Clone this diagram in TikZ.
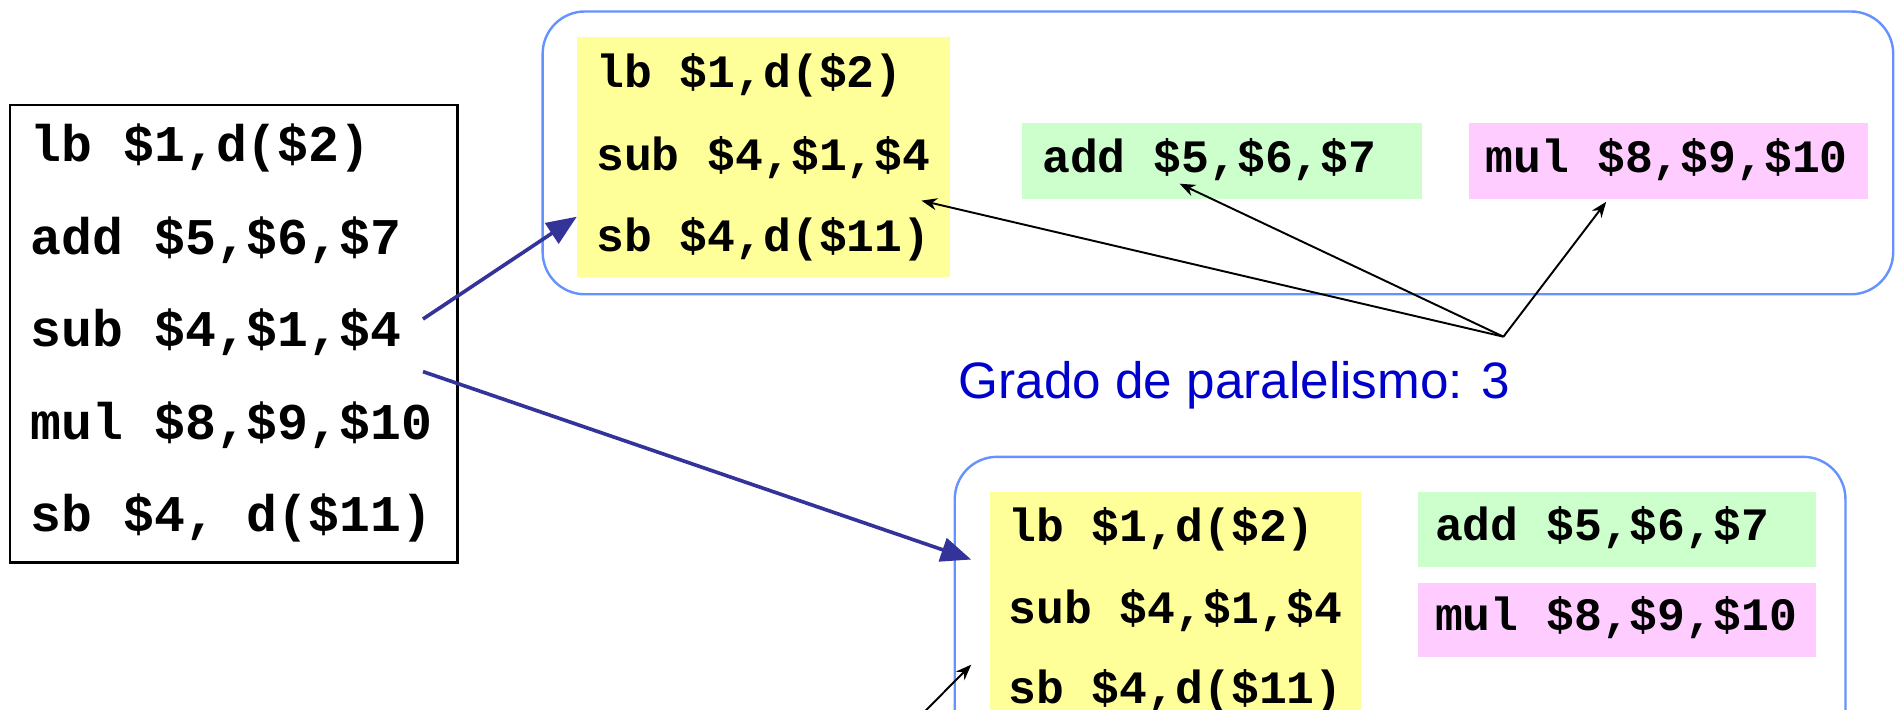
\documentclass[tikz,border=0pt]{standalone}
\usepackage{fontspec}
\setmainfont{Liberation Sans}
\newfontfamily\cfont{Liberation Mono}
\usetikzlibrary{fit,arrows.meta}
\definecolor{yel}{RGB}{255,255,153}
\definecolor{grn}{RGB}{204,255,204}
\definecolor{pnk}{RGB}{255,204,255}
\definecolor{boxblue}{RGB}{102,146,255}
\definecolor{arrblue}{RGB}{51,51,153}
\definecolor{txtblue}{RGB}{0,0,204}
\tikzset{
  bigcode/.style={font=\cfont\bfseries\fontsize{21.3}{22}\selectfont, anchor=base west, inner sep=0pt},
  code/.style={font=\cfont\bfseries\fontsize{19.2}{20}\selectfont, anchor=base west, inner sep=0pt},
  yelbox/.style={fill=yel, draw=none, inner sep=0pt},
  grnbox/.style={fill=grn, draw=none, inner sep=0pt},
  pnkbox/.style={fill=pnk, draw=none, inner sep=0pt},
  group/.style={draw=boxblue, line width=1pt, rounded corners=17.5pt, inner sep=0pt},
  srcbox/.style={draw=black, line width=1pt, inner sep=0pt},
  bigarrow/.style={draw=arrblue, line width=1.5pt, -{Triangle[length=12.5pt,width=10pt]}},
  thinarrow/.style={draw=black, line width=0.8pt, -{Stealth[length=6.5pt,width=5pt]}},
  label/.style={font=\fontsize{21.2}{24}\selectfont, text=txtblue, anchor=base west, inner sep=0pt}
}
\begin{document}
\begin{tikzpicture}[x=0.5pt,y=-0.5pt]
\useasboundingbox (0,0) rectangle (1568,587);
\clip (0,0) rectangle (1568,587);
% source list
\node[srcbox, fit={(8.5,87)(378.4,465.5)}] (src) {};
\node[bigcode] (s1) at (25,134) {lb \$1,d(\$2)};
\node[bigcode] (s2) at (25,210.5) {add \$5,\$6,\$7};
\node[bigcode] (s3) at (25,287) {sub \$4,\$1,\$4};
\node[bigcode] (s4) at (25,363.5) {mul \$8,\$9,\$10};
\node[bigcode] (s5) at (25,440) {sb \$4, d(\$11)};
% top group
\node[group, fit={(449,9.5)(1566.5,243.5)}] (top) {};
\node[yelbox, fit={(477.3,31)(785.7,229.5)}] (ytop) {};
\node[grnbox, fit={(846,102)(1177,164.4)}] (gtop) {};
\node[pnkbox, fit={(1215.5,102)(1545.6,164.4)}] (ptop) {};
\node[code] (ta) at (493,72.3) {lb \$1,d(\$2)};
\node[code] (tb) at (493,140.7) {sub \$4,\$1,\$4};
\node[code] (tc) at (493,208.5) {sb \$4,d(\$11)};
\node[code] (td) at (862,142.9) {add \$5,\$6,\$7};
\node[code] (te) at (1229,142.9) {mul \$8,\$9,\$10};
% label
\node[label] (grado) at (793,329.5) {Grado de paralelismo: 3};
% bottom group
\node[group, fit={(790,378)(1527,680)}] (bot) {};
\node[yelbox, fit={(819,407)(1126,680)}] (ybot) {};
\node[grnbox, fit={(1173,407)(1503,469)}] (gbot) {};
\node[pnkbox, fit={(1173,482)(1503,544)}] (pbot) {};
\node[code] (ba) at (834,448.2) {lb \$1,d(\$2)};
\node[code] (bb) at (834,515.7) {sub \$4,\$1,\$4};
\node[code] (bc) at (834,582) {sb \$4,d(\$11)};
\node[code] (bd) at (1187,447.3) {add \$5,\$6,\$7};
\node[code] (be) at (1187,521.3) {mul \$8,\$9,\$10};
% connectors
\coordinate (a1s) at (350,264);
\coordinate (a1e) at (477.3,179.3);
\coordinate (a2s) at (350,307.5);
\coordinate (a2e) at (803.6,463);
\draw[bigarrow] (a1s) -- (a1e);
\draw[bigarrow] (a2s) -- (a2e);
\coordinate (conv) at (1244,278.6);
\coordinate (tipy) at (762.4,166);
\coordinate (tipg) at (976,152);
\coordinate (tipp) at (1329,167);
\draw[thinarrow] (conv) -- (tipy);
\draw[thinarrow] (conv) -- (tipg);
\draw[thinarrow] (conv) -- (tipp);
\coordinate (smalls) at (754,600);
\coordinate (smalle) at (803.6,550);
\draw[thinarrow] (smalls) -- (smalle);
\end{tikzpicture}
\end{document}
